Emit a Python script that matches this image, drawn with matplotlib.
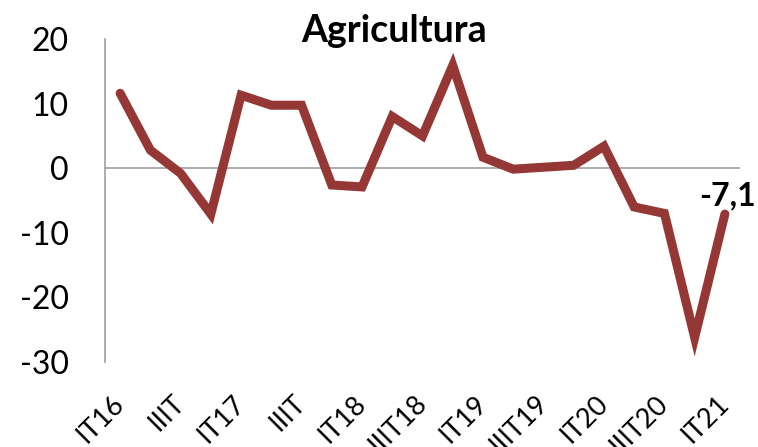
import matplotlib
matplotlib.use("Agg")
import matplotlib.pyplot as plt

labels = ["IT16", "", "IIIT", "", "IT17", "", "IIIT", "", "IT18", "", "IIIT18", "",
          "IT19", "", "IIIT19", "", "IT20", "", "IIIT20", "", "IT21"]
values = [11.6, 2.8, -0.8, -7.1, 11.3, 9.75, 9.75, -2.6, -2.9, 8.0, 5.0, 15.9,
          1.7, -0.15, 0.15, 0.45, 3.4, -6.0, -7.0, -26.2, -7.1]
yticks = [20, 10, 0, -10, -20, -30]
title = "Agricultura"
last_label = "-7,1"

plt.rcParams['font.family'] = ['Lato', 'DejaVu Sans']

fig = plt.figure(figsize=(7.58, 4.47), dpi=100)
ax = fig.add_axes([105/758, 1 - 362/447, (740-105)/758, (362-39)/447])

x = list(range(len(values)))
ax.plot(x, values, color="#953735", lw=6.5, solid_joinstyle="miter", solid_capstyle="round", zorder=3)

ax.set_xlim(-0.5, len(values) - 0.5)
ax.set_ylim(-30, 20)
ax.set_yticks(yticks)
ax.set_yticklabels([str(v) for v in yticks], fontsize=23)
ax.tick_params(axis="y", length=0, pad=26)

ax.axhline(0, color="#a6a6a6", lw=1.3, zorder=1)
for s in ["top", "right", "bottom"]:
    ax.spines[s].set_visible(False)
ax.spines["left"].set_color("#a6a6a6")
ax.spines["left"].set_linewidth(1.3)

tick_pos = [i for i, l in enumerate(labels) if l]
ax.set_xticks(tick_pos)
ax.set_xticklabels([labels[i] for i in tick_pos], fontsize=19.5, rotation=45,
                   ha="right", va="center", rotation_mode="anchor")
ax.tick_params(axis="x", length=0, pad=27)

ax.annotate(last_label, (x[-1], values[-1]), xytext=(2, 13), textcoords="offset points",
            ha="center", va="center", fontsize=23, fontweight="bold")

fig.text(394/758, 1 - 31/447, title, ha="center", va="center", fontsize=27, fontweight="bold")

fig.savefig("out.png", dpi=100)
